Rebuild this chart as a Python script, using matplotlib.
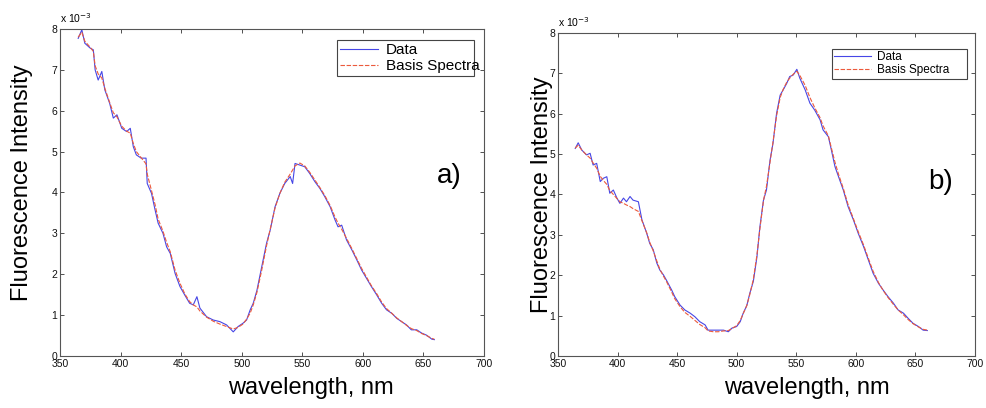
import matplotlib
matplotlib.use("Agg")
import matplotlib.pyplot as plt

plt.rcParams['font.family'] = ['Liberation Sans', 'DejaVu Sans']

# ---- panel a) ----
wl_a = [365, 368, 370.5, 375, 377.5, 379, 381.5, 384.5, 387, 391, 394, 397, 401, 405, 408,
        410.5, 413, 417, 421, 422, 425.5, 428.5, 431, 435, 438, 441, 445, 449, 453, 457,
        460, 463, 465.5, 471, 476.5, 482, 487.5, 493, 497, 501, 504, 507, 509.5, 512.5, 516.5,
        520.5, 523.5, 527.5, 531.5, 535.5, 540, 542, 544, 548, 552, 556, 560.5, 564.5, 568.5, 573,
        577, 579.5, 582.5, 586.5, 591, 595, 599, 603, 607, 611.5, 615.5, 619.5, 624, 628, 632,
        636, 640, 644.5, 648.5, 652.5, 657, 659]
data_a = [7.77, 7.98, 7.65, 7.53, 7.49, 7.00, 6.75, 6.96, 6.51, 6.18, 5.82, 5.90, 5.57, 5.49, 5.57,
          5.12, 4.92, 4.84, 4.84, 4.22, 3.98, 3.57, 3.25, 3.00, 2.67, 2.51, 2.02, 1.70, 1.49, 1.29,
          1.25, 1.45, 1.17, 0.96, 0.88, 0.84, 0.76, 0.59, 0.72, 0.80, 0.88, 1.13, 1.29, 1.60, 2.18,
          2.76, 3.08, 3.65, 3.98, 4.22, 4.39, 4.22, 4.71, 4.67, 4.63, 4.47, 4.26, 4.10, 3.90, 3.65,
          3.33, 3.16, 3.20, 2.84, 2.59, 2.35, 2.10, 1.90, 1.70, 1.49, 1.29, 1.13, 1.04, 0.92, 0.84,
          0.76, 0.64, 0.64, 0.56, 0.51, 0.41, 0.40]
basis_a = [7.80, 7.92, 7.70, 7.55, 7.45, 7.10, 6.90, 6.80, 6.55, 6.20, 5.95, 5.85, 5.62, 5.50, 5.45,
           5.20, 5.00, 4.85, 4.70, 4.45, 4.05, 3.70, 3.35, 3.05, 2.78, 2.55, 2.10, 1.78, 1.52, 1.33,
           1.25, 1.20, 1.10, 0.95, 0.85, 0.78, 0.72, 0.66, 0.70, 0.78, 0.90, 1.05, 1.25, 1.55, 2.10,
           2.70, 3.10, 3.62, 3.98, 4.25, 4.45, 4.55, 4.65, 4.72, 4.65, 4.50, 4.30, 4.12, 3.93, 3.68,
           3.40, 3.25, 3.10, 2.88, 2.62, 2.38, 2.14, 1.93, 1.72, 1.52, 1.32, 1.16, 1.04, 0.93, 0.84,
           0.75, 0.67, 0.62, 0.55, 0.50, 0.43, 0.41]

# ---- panel b) ----
wl_b = [364.5, 367, 370, 374, 377, 379.5, 382.5, 385.5, 388, 391, 393.5, 396.5, 399.5, 402, 405,
        407.5, 410.5, 413, 417.5, 420.5, 424.5, 427, 430, 433, 435.5, 438.5, 441, 445.5, 448, 452.5,
        456.5, 461, 465, 469, 473.5, 476, 480.5, 484.5, 489, 493, 496, 500, 503, 505.5, 508.5,
        511, 514, 517, 519.5, 522.5, 525, 528, 530.5, 533.5, 536.5, 539, 542, 544.5, 547.5, 550.5,
        553, 557.5, 561.5, 565.5, 570, 572.5, 577, 579.5, 582.5, 585.5, 589.5, 593.5, 598, 602, 606.5,
        610.5, 614.5, 619, 623, 627, 631.5, 635.5, 640, 644, 648, 652.5, 656.5, 660]
data_b = [5.14, 5.28, 5.10, 4.98, 5.02, 4.73, 4.77, 4.32, 4.40, 4.44, 4.03, 4.11, 3.91, 3.78, 3.91,
          3.82, 3.95, 3.86, 3.82, 3.37, 3.04, 2.79, 2.63, 2.30, 2.13, 2.01, 1.88, 1.63, 1.47, 1.26,
          1.14, 1.06, 0.97, 0.85, 0.77, 0.64, 0.64, 0.64, 0.64, 0.60, 0.69, 0.73, 0.85, 1.06, 1.25,
          1.55, 1.85, 2.45, 3.20, 3.86, 4.11, 4.85, 5.27, 6.01, 6.46, 6.59, 6.75, 6.92, 6.96, 7.10,
          6.88, 6.59, 6.26, 6.09, 5.85, 5.60, 5.43, 5.10, 4.69, 4.44, 4.11, 3.70, 3.37, 3.04, 2.71,
          2.38, 2.05, 1.80, 1.63, 1.47, 1.31, 1.14, 1.06, 0.93, 0.81, 0.73, 0.64, 0.63]
basis_b = [5.15, 5.22, 5.10, 4.98, 4.90, 4.78, 4.65, 4.45, 4.35, 4.25, 4.10, 4.00, 3.90, 3.82, 3.78,
           3.74, 3.70, 3.65, 3.58, 3.35, 3.05, 2.82, 2.60, 2.35, 2.15, 1.98, 1.85, 1.58, 1.42, 1.22,
           1.08, 0.98, 0.88, 0.78, 0.70, 0.62, 0.60, 0.60, 0.62, 0.63, 0.68, 0.75, 0.88, 1.05, 1.25,
           1.52, 1.90, 2.50, 3.15, 3.85, 4.20, 4.80, 5.30, 5.95, 6.40, 6.60, 6.78, 6.88, 6.98, 7.05,
           6.95, 6.70, 6.40, 6.15, 5.90, 5.70, 5.45, 5.15, 4.80, 4.50, 4.15, 3.75, 3.40, 3.08, 2.75,
           2.42, 2.10, 1.82, 1.62, 1.45, 1.28, 1.14, 1.02, 0.90, 0.80, 0.72, 0.66, 0.64]

x_ticks = [350, 400, 450, 500, 550, 600, 650, 700]
y_ticks = [0, 1, 2, 3, 4, 5, 6, 7, 8]
legend_labels = ["Data", "Basis Spectra"]
panel_labels = ["a)", "b)"]
xlabel = "wavelength, nm"
ylabel = "Fluorescence Intensity"

fig = plt.figure(figsize=(9.87, 4.08), dpi=100)
ax1 = fig.add_axes([0.0608, 0.1275, 0.4296, 0.8015])
ax2 = fig.add_axes([0.5653, 0.1275, 0.4225, 0.7917])

panels = [
    (ax1, wl_a, data_a, basis_a, panel_labels[0], (661, 4.4), 11, 2.5,
     (0.653, 0.985, 0.323, 0.129), (-0.064, 0.529), (0.592, -0.064)),
    (ax2, wl_b, data_b, basis_b, panel_labels[1], (660.5, 4.31), 8.5, 3.1,
     (0.657, 0.981, 0.324, 0.123), (-0.012, 0.498), (0.597, -0.066)),
]

for (ax, wl, d, b, lab, labpos, lfs, hl, lbox, ylc, xlc) in panels:
    ax.plot(wl, d, color='#4646e6', lw=0.8, label=legend_labels[0])
    ax.plot(wl, b, color='#ec5a3c', lw=0.8, ls=(0, (4, 1.5)), label=legend_labels[1])
    ax.set_xlim(350, 700)
    ax.set_ylim(0, 8)
    ax.set_xticks(x_ticks)
    ax.set_yticks(y_ticks)
    ax.tick_params(direction='in', length=3, width=0.6, labelsize=7.5, pad=2,
                   top=True, right=True, colors='#333333', labelcolor='#111111')
    for s in ax.spines.values():
        s.set_color('#555555')
        s.set_linewidth(0.8)
    ax.set_xlabel(xlabel, fontsize=17)
    ax.set_ylabel(ylabel, fontsize=17)
    ax.yaxis.set_label_coords(*ylc)
    ax.xaxis.set_label_coords(*xlc)
    ax.text(labpos[0], labpos[1], lab, fontsize=20, ha='left', va='center')
    ax.text(0.0, 1.012, r'x 10$^{-3}$', transform=ax.transAxes, fontsize=7.5,
            ha='left', va='bottom')
    leg = ax.legend(loc='lower left', bbox_to_anchor=(lbox[0], lbox[1] - lbox[3], lbox[2], lbox[3]),
                    mode='expand', fontsize=lfs, handlelength=hl, handletextpad=0.5,
                    borderaxespad=0, borderpad=0.2, labelspacing=0.1, fancybox=False,
                    framealpha=1, edgecolor='#444444')
    leg.get_frame().set_linewidth(0.8)

fig.savefig("out.png", dpi=100)
